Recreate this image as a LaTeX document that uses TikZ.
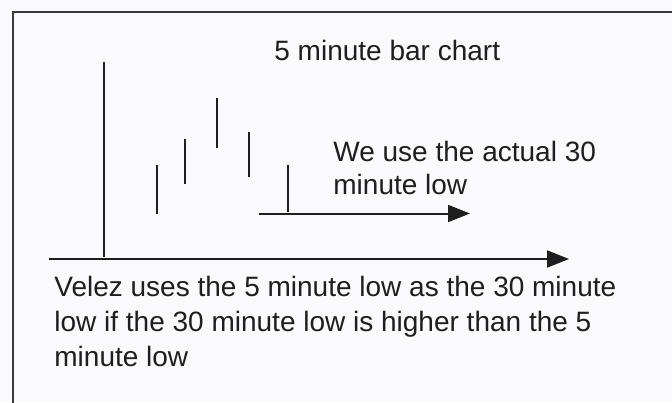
\documentclass[tikz,border=0pt]{standalone}
\usepackage{fontspec}
\setmainfont{Liberation Sans}
\usetikzlibrary{arrows.meta}
\definecolor{chartink}{HTML}{1E1E1E}
\definecolor{framegray}{HTML}{3A3A3A}
\definecolor{paper}{HTML}{FAF9FC}

\begin{document}
\begin{tikzpicture}[
  x=0.5pt, y=-0.5pt,
  font=\fontsize{14}{17.35}\selectfont,
  bar/.style   = {draw=chartink, line width=1pt},
  flow/.style  = {draw=chartink, line width=1pt, -{Triangle[length=11pt, width=8.5pt]}},
  note/.style  = {anchor=base west, inner sep=0pt, align=left, text=chartink},
]
\useasboundingbox[fill=paper] (0,0) rectangle (672,402);

% ---------- frame (right and bottom edges run off the picture) ------------------------------
\draw[framegray, line width=1pt] (700,12) -| (13,430);

% ---------- bars -----------------------------------------------------------------------------
\draw[bar] (104,62) -- (104,257);
\draw[bar] (157,165) -- (157,214);
\draw[bar] (184.5,139) -- (184.5,184);
\draw[bar] (216.5,98) -- (216.5,148);
\draw[bar] (248.5,132) -- (248.5,177);
\draw[bar] (288,165) -- (288,212);

% ---------- the two lows ---------------------------------------------------------------------
\coordinate (low30a) at (259,213.5);
\coordinate (low30b) at (470,213.5);
\coordinate (low5a)  at (49,259);
\coordinate (low5b)  at (569,259);
\draw[flow] (low30a) -- (low30b);
\draw[flow] (low5a) -- (low5b);

% ---------- texts (multi-line notes sit on the baseline of their last line) -----------------
\node[note] (title) at (274,60.7) {5 minute bar chart};
\node[note, font=\fontsize{14}{16.2}\selectfont] (ournote) at (333,194)
     {We use the actual 30\\minute low};
\node[note] (veleznote) at (54,366)
     {Velez uses the 5 minute low as the 30 minute\\low if the 30 minute low is higher than the 5\\minute low};

\end{tikzpicture}
\end{document}
